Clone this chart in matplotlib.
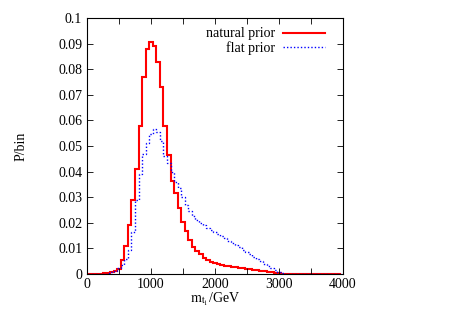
import numpy as np
import matplotlib
matplotlib.use("Agg")
import matplotlib.pyplot as plt
from matplotlib.ticker import MultipleLocator

# 72 bins over 0-4000 GeV, bin k centred at k*bin_width
bin_width = 4000 / 72

natural_prior = [
    0, 0, 0, 0, 0.0001, 0.0002, 0.0003, 0.0006, 0.001, 0.002,
    0.0055, 0.011, 0.019, 0.029, 0.041, 0.058, 0.077, 0.088, 0.0905, 0.089,
    0.083, 0.073, 0.058, 0.0465, 0.0365, 0.0315, 0.0257, 0.0204, 0.0168, 0.0133,
    0.0107, 0.0091, 0.0077, 0.0064, 0.0055, 0.0048, 0.0042, 0.0038, 0.0035, 0.0032,
    0.0030, 0.0029, 0.0027, 0.0025, 0.0023, 0.0021, 0.0018, 0.0016, 0.0014, 0.0012,
    0.0010, 0.0008, 0.0006, 0.0004, 0.0002, 0.0001, 0, 0, 0, 0,
    0, 0, 0, 0, 0, 0, 0, 0, 0, 0,
    0, 0,
]

flat_prior = [
    0, 0, 0, 0, 0, 0.0001, 0.0003, 0.0006, 0.001, 0.0022,
    0.0035, 0.006, 0.0095, 0.0165, 0.029, 0.039, 0.047, 0.051, 0.0545, 0.0565,
    0.0555, 0.052, 0.046, 0.0435, 0.040, 0.036, 0.0335, 0.030, 0.027, 0.0245,
    0.0225, 0.021, 0.020, 0.019, 0.018, 0.017, 0.0163, 0.0155, 0.0147, 0.014,
    0.013, 0.0122, 0.0113, 0.0104, 0.0095, 0.0086, 0.0077, 0.0068, 0.0059, 0.005,
    0.0041, 0.0031, 0.0022, 0.0014, 0.0007, 0.0002, 0.0001, 0, 0, 0,
    0, 0, 0, 0, 0, 0, 0, 0, 0, 0,
    0, 0,
]

plt.rcParams["font.family"] = ["Liberation Serif", "DejaVu Serif"]
plt.rcParams["mathtext.fontset"] = "stix"
plt.rcParams["font.size"] = 10

edges = (np.arange(len(natural_prior) + 1) - 0.5) * bin_width

fig = plt.figure(figsize=(4.57, 3.2), dpi=100)
ax = fig.add_axes([87 / 457, 46 / 320, 256 / 457, 256 / 320])

ax.stairs(natural_prior, edges, baseline=None, color="#ff0000", lw=1.5,
          label="natural prior")
ax.stairs(flat_prior, edges, baseline=None, color="#0000ff", lw=1.0,
          linestyle=(0, (1, 1.5)), label="flat prior")

ax.set_xlim(0, 4000)
ax.set_ylim(0, 0.1)
ax.xaxis.set_major_locator(MultipleLocator(1000))
ax.xaxis.set_minor_locator(MultipleLocator(500))
ax.yaxis.set_major_locator(MultipleLocator(0.01))
ax.yaxis.set_major_formatter(plt.FuncFormatter(lambda v, p: f"{v:.2f}".rstrip("0").rstrip(".") if v else "0"))
ax.tick_params(which="both", direction="in", top=True, right=True, length=4, width=0.6)
ax.tick_params(axis="x", pad=3)
for s in ax.spines.values():
    s.set_linewidth(0.8)

ax.set_xlabel(r"$\mathrm{m}_{\mathrm{t}_1}$/GeV", labelpad=0)
ax.set_ylabel("P/bin", labelpad=22)

ax.legend(loc="upper right", bbox_to_anchor=(0.95, 0.985), frameon=False,
          markerfirst=False, handlelength=3.0, handletextpad=0.6,
          labelspacing=0.05, borderaxespad=0)

fig.savefig("out.png", dpi=100)
